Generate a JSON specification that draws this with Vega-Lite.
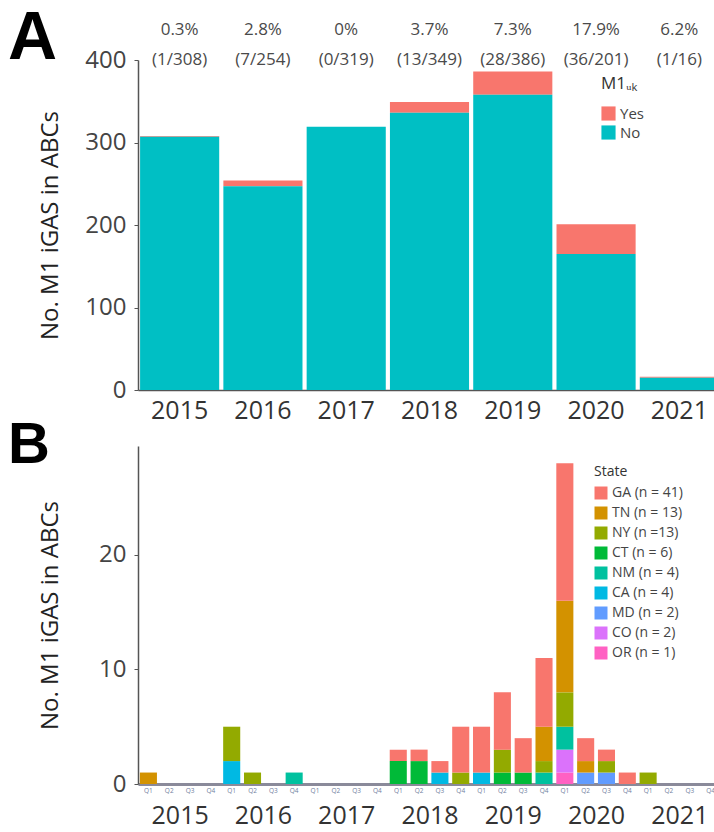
{
  "$schema": "https://vega.github.io/schema/vega-lite/v6.json",
  "background": "white",
  "padding": {"left": 8, "top": 5, "right": 0, "bottom": 0},
  "spacing": -6,
  "resolve": {"scale": {"color": "independent"}, "legend": {"color": "independent"}},
  "config": {"view": {"stroke": null}, "font": "Open Sans", "axis": {"grid": false}},
  "datasets": {
    "m1": [
      {"year": "2015", "M1UK": "Yes", "count": 1}, {"year": "2015", "M1UK": "No", "count": 307},
      {"year": "2016", "M1UK": "Yes", "count": 7}, {"year": "2016", "M1UK": "No", "count": 247},
      {"year": "2017", "M1UK": "Yes", "count": 0}, {"year": "2017", "M1UK": "No", "count": 319},
      {"year": "2018", "M1UK": "Yes", "count": 13}, {"year": "2018", "M1UK": "No", "count": 336},
      {"year": "2019", "M1UK": "Yes", "count": 28}, {"year": "2019", "M1UK": "No", "count": 358},
      {"year": "2020", "M1UK": "Yes", "count": 36}, {"year": "2020", "M1UK": "No", "count": 165},
      {"year": "2021", "M1UK": "Yes", "count": 1}, {"year": "2021", "M1UK": "No", "count": 15}
    ],
    "ann": [
      {"year": "2015", "pct": "0.3%", "frac": "(1/308)"},
      {"year": "2016", "pct": "2.8%", "frac": "(7/254)"},
      {"year": "2017", "pct": "0%", "frac": "(0/319)"},
      {"year": "2018", "pct": "3.7%", "frac": "(13/349)"},
      {"year": "2019", "pct": "7.3%", "frac": "(28/386)"},
      {"year": "2020", "pct": "17.9%", "frac": "(36/201)"},
      {"year": "2021", "pct": "6.2%", "frac": "(1/16)"}
    ],
    "q": [
      {"period": "2015 Q1", "state": "TN (n = 13)", "n": 1},
      {"period": "2016 Q1", "state": "CA (n = 4)", "n": 2},
      {"period": "2016 Q1", "state": "NY (n =13)", "n": 3},
      {"period": "2016 Q2", "state": "NY (n =13)", "n": 1},
      {"period": "2016 Q4", "state": "NM (n = 4)", "n": 1},
      {"period": "2018 Q1", "state": "CT (n = 6)", "n": 2},
      {"period": "2018 Q1", "state": "GA (n = 41)", "n": 1},
      {"period": "2018 Q2", "state": "CT (n = 6)", "n": 2},
      {"period": "2018 Q2", "state": "GA (n = 41)", "n": 1},
      {"period": "2018 Q3", "state": "CA (n = 4)", "n": 1},
      {"period": "2018 Q3", "state": "GA (n = 41)", "n": 1},
      {"period": "2018 Q4", "state": "NY (n =13)", "n": 1},
      {"period": "2018 Q4", "state": "GA (n = 41)", "n": 4},
      {"period": "2019 Q1", "state": "CA (n = 4)", "n": 1},
      {"period": "2019 Q1", "state": "GA (n = 41)", "n": 4},
      {"period": "2019 Q2", "state": "CT (n = 6)", "n": 1},
      {"period": "2019 Q2", "state": "NY (n =13)", "n": 2},
      {"period": "2019 Q2", "state": "GA (n = 41)", "n": 5},
      {"period": "2019 Q3", "state": "CT (n = 6)", "n": 1},
      {"period": "2019 Q3", "state": "GA (n = 41)", "n": 3},
      {"period": "2019 Q4", "state": "NM (n = 4)", "n": 1},
      {"period": "2019 Q4", "state": "NY (n =13)", "n": 1},
      {"period": "2019 Q4", "state": "TN (n = 13)", "n": 3},
      {"period": "2019 Q4", "state": "GA (n = 41)", "n": 6},
      {"period": "2020 Q1", "state": "OR (n = 1)", "n": 1},
      {"period": "2020 Q1", "state": "CO (n = 2)", "n": 2},
      {"period": "2020 Q1", "state": "NM (n = 4)", "n": 2},
      {"period": "2020 Q1", "state": "NY (n =13)", "n": 3},
      {"period": "2020 Q1", "state": "TN (n = 13)", "n": 8},
      {"period": "2020 Q1", "state": "GA (n = 41)", "n": 12},
      {"period": "2020 Q2", "state": "MD (n = 2)", "n": 1},
      {"period": "2020 Q2", "state": "TN (n = 13)", "n": 1},
      {"period": "2020 Q2", "state": "GA (n = 41)", "n": 2},
      {"period": "2020 Q3", "state": "MD (n = 2)", "n": 1},
      {"period": "2020 Q3", "state": "NY (n =13)", "n": 1},
      {"period": "2020 Q3", "state": "GA (n = 41)", "n": 1},
      {"period": "2020 Q4", "state": "GA (n = 41)", "n": 1},
      {"period": "2021 Q1", "state": "NY (n =13)", "n": 1}
    ]
  },
  "vconcat": [
    {
      "width": 583,
      "height": 330,
      "title": {"text": "A", "font": "Liberation Sans", "fontSize": 68, "fontWeight": "bold", "color": "black", "anchor": "start", "frame": "group", "dx": -130, "offset": -52},
      "layer": [
        {
          "data": {"name": "m1"},
          "mark": {"type": "bar"},
          "encoding": {
            "x": {"field": "year", "type": "ordinal", "title": null,
              "scale": {"paddingInner": 0.05, "paddingOuter": 0.025},
              "axis": {"labelAngle": 0, "ticks": false, "labelFontSize": 25, "labelColor": "#333", "labelPadding": 8, "domainColor": "#555", "domainWidth": 1.5}},
            "y": {"field": "count", "type": "quantitative", "stack": "zero", "scale": {"domain": [0, 400]},
              "axis": {"values": [0, 100, 200, 300, 400], "title": "No. M1 iGAS in ABCs", "titleFontSize": 24, "titleFontWeight": "normal", "titleColor": "#222", "labelFontSize": 24, "labelColor": "#444", "domainColor": "#555", "domainWidth": 1.5, "tickColor": "#555", "tickSize": 4, "labelPadding": 8, "titlePadding": 22}},
            "color": {"field": "M1UK", "type": "nominal",
              "scale": {"domain": ["Yes", "No"], "range": ["#F8766D", "#00BFC4"]},
              "legend": {"title": "M1ᵤₖ", "orient": "none", "legendX": 463, "legendY": 16, "titleFontSize": 17, "titleFontWeight": "normal", "titleColor": "#333", "titlePadding": 13, "labelFontSize": 15, "labelColor": "#444", "symbolType": "square", "symbolSize": 200, "symbolStrokeWidth": 0, "rowPadding": 3}},
            "order": {"field": "M1UK", "sort": "ascending"}
          }
        },
        {
          "data": {"name": "ann"},
          "mark": {"type": "text", "fontSize": 17, "color": "#4a4a4a", "baseline": "middle"},
          "encoding": {
            "x": {"field": "year", "type": "ordinal"},
            "y": {"datum": 436},
            "text": {"field": "pct"}
          }
        },
        {
          "data": {"name": "ann"},
          "mark": {"type": "text", "fontSize": 17, "color": "#4a4a4a", "baseline": "middle"},
          "encoding": {
            "x": {"field": "year", "type": "ordinal"},
            "y": {"datum": 400},
            "text": {"field": "frac"}
          }
        }
      ]
    },
    {
      "width": 583,
      "height": 338,
      "title": {"text": "B", "font": "Liberation Sans", "fontSize": 58, "fontWeight": "bold", "color": "black", "anchor": "start", "frame": "group", "dx": -130, "offset": -29},
      "layer": [
        {
          "data": {"name": "q"},
          "transform": [{"calculate": "indexof(['GA (n = 41)','TN (n = 13)','NY (n =13)','CT (n = 6)','NM (n = 4)','CA (n = 4)','MD (n = 2)','CO (n = 2)','OR (n = 1)'], datum.state)", "as": "rank"}],
          "mark": {"type": "bar"},
          "encoding": {
            "x": {"field": "period", "type": "ordinal", "title": null,
              "scale": {"domain": ["2015 Q1","2015 Q2","2015 Q3","2015 Q4","2016 Q1","2016 Q2","2016 Q3","2016 Q4","2017 Q1","2017 Q2","2017 Q3","2017 Q4","2018 Q1","2018 Q2","2018 Q3","2018 Q4","2019 Q1","2019 Q2","2019 Q3","2019 Q4","2020 Q1","2020 Q2","2020 Q3","2020 Q4","2021 Q1","2021 Q2","2021 Q3","2021 Q4"], "paddingInner": 0.18, "paddingOuter": 0.09},
              "axis": {"labelExpr": "slice(datum.label, 5)", "labelAngle": 0, "labelFontSize": 6.5, "labelColor": "#7080a0", "labelOverlap": false, "ticks": false, "labelPadding": 3, "domainColor": "#8a8a9a", "domainWidth": 3}},
            "y": {"field": "n", "type": "quantitative", "stack": "zero", "scale": {"domain": [0, 29.5]},
              "axis": {"values": [0, 10, 20], "title": "No. M1 iGAS in ABCs", "titleFontSize": 24, "titleFontWeight": "normal", "titleColor": "#222", "labelFontSize": 24, "labelColor": "#444", "domainColor": "#555", "domainWidth": 1.5, "tickColor": "#555", "tickSize": 4, "labelPadding": 8, "titlePadding": 36}},
            "color": {"field": "state", "type": "nominal",
              "scale": {"domain": ["GA (n = 41)","TN (n = 13)","NY (n =13)","CT (n = 6)","NM (n = 4)","CA (n = 4)","MD (n = 2)","CO (n = 2)","OR (n = 1)"], "range": ["#F8766D","#D39200","#93AA00","#00BA38","#00C19F","#00B9E3","#619CFF","#DB72FB","#FF61C3"]},
              "legend": {"title": "State", "orient": "none", "legendX": 456, "legendY": 19, "titleFontSize": 14, "titleFontWeight": "normal", "titleColor": "#333", "titlePadding": 7, "labelFontSize": 14, "labelColor": "#444", "symbolType": "square", "symbolSize": 169, "symbolStrokeWidth": 0, "rowPadding": 6}},
            "order": {"field": "rank", "sort": "descending"}
          }
        },
        {
          "data": {"name": "ann"},
          "mark": {"type": "text", "text": ""},
          "encoding": {
            "x": {"field": "year", "type": "ordinal", "title": null,
              "scale": {"paddingInner": 0, "paddingOuter": 0},
              "axis": {"orient": "bottom", "labelAngle": 0, "ticks": false, "domain": false, "offset": 13, "labelPadding": 6, "labelFontSize": 25, "labelColor": "#333"}}
          }
        }
      ],
      "resolve": {"scale": {"x": "independent"}}
    }
  ]
}
